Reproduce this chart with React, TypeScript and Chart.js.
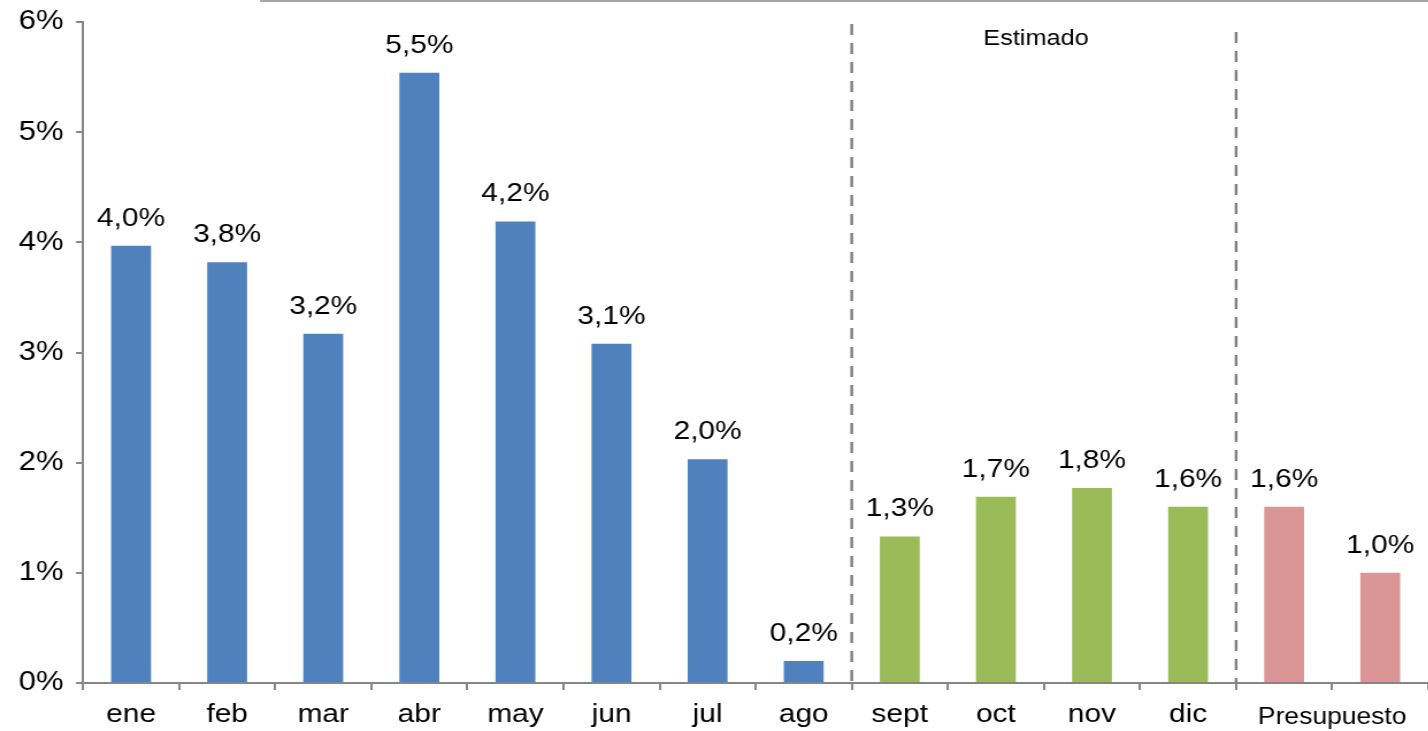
import { useEffect, useRef } from 'react';
import { Chart, registerables } from 'chart.js';

Chart.register(...registerables);

// ---- data ----
const categories = ['ene', 'feb', 'mar', 'abr', 'may', 'jun', 'jul', 'ago', 'sept', 'oct', 'nov', 'dic', '', ''];
const values = [3.97, 3.82, 3.17, 5.54, 4.19, 3.08, 2.03, 0.2, 1.33, 1.69, 1.77, 1.6, 1.6, 1.0];
const groupOf = ['real', 'real', 'real', 'real', 'real', 'real', 'real', 'real', 'est', 'est', 'est', 'est', 'pres', 'pres'];
const groupColors: Record<string, string> = { real: '#4F81BD', est: '#9BBB59', pres: '#D99694' };
const yTicks = [0, 1, 2, 3, 4, 5, 6];
const topLabel = 'Estimado';
const topLabelGroup = 'est';
const bottomGroupLabel = 'Presupuesto';
const bottomLabelGroup = 'pres';
const dividerAfter = [7, 11];

// ---- layout ----
const S = 1.15; // horizontal stretch of the reference
const CW = Math.round(1428 / S);
const H = 731;
const FONT = '"Liberation Sans", Arial, sans-serif';

const fmt = (v: number) => v.toFixed(1).replace('.', ',') + '%';

export default function App() {
  const ref = useRef<HTMLCanvasElement>(null);

  useEffect(() => {
    document.body.style.margin = '0';
    const canvas = ref.current!;

    const overlay = {
      id: 'overlay',
      afterDatasetsDraw(chart: any) {
        const { ctx, chartArea, scales } = chart;
        const x = scales.x;
        const meta = chart.getDatasetMeta(0);
        ctx.save();

        // value labels
        ctx.fillStyle = '#000';
        ctx.textAlign = 'center';
        ctx.textBaseline = 'alphabetic';
        ctx.font = `26px ${FONT}`;
        meta.data.forEach((bar: any, i: number) => {
          ctx.fillText(fmt(values[i]), bar.x, bar.y - 20);
        });

        // dashed dividers
        ctx.strokeStyle = '#7F7F7F';
        ctx.lineWidth = 2.4;
        ctx.setLineDash([11, 8]);
        const tops = [24, 32];
        dividerAfter.forEach((d, k) => {
          const px = (x.getPixelForValue(d) + x.getPixelForValue(d + 1)) / 2;
          ctx.beginPath();
          ctx.moveTo(px, tops[k]);
          ctx.lineTo(px, chartArea.bottom);
          ctx.stroke();
        });
        ctx.setLineDash([]);

        // top border line
        ctx.strokeStyle = '#A6A6A6';
        ctx.lineWidth = 2;
        ctx.beginPath();
        ctx.moveTo(260 / S, 1);
        ctx.lineTo(CW, 1);
        ctx.stroke();

        // group labels
        const idxOf = (g: string) => groupOf.map((gg, i) => (gg === g ? i : -1)).filter((i) => i >= 0);
        const center = (g: string) => {
          const ids = idxOf(g);
          return ids.reduce((s, i) => s + x.getPixelForValue(i), 0) / ids.length;
        };
        ctx.font = `22px ${FONT}`;
        ctx.fillText(topLabel, center(topLabelGroup) - 8 / S, 45);
        ctx.font = `23px ${FONT}`;
        ctx.fillText(bottomGroupLabel, center(bottomLabelGroup), 724);

        ctx.restore();
      },
    };

    const chart = new Chart(canvas, {
      type: 'bar',
      data: {
        labels: categories,
        datasets: [
          {
            data: values,
            backgroundColor: groupOf.map((g) => groupColors[g]),
            barPercentage: 0.415,
            categoryPercentage: 1,
          },
        ],
      },
      options: {
        animation: false,
        responsive: false,
        devicePixelRatio: 1,
        layout: { padding: { top: 22, right: 0, left: 0, bottom: 0 } },
        plugins: { legend: { display: false }, tooltip: { enabled: false } },
        scales: {
          x: {
            offset: true,
            grid: {
              offset: true,
              drawOnChartArea: false,
              drawTicks: true,
              tickLength: 7,
              color: '#868686',
              lineWidth: 2,
            },
            border: { display: true, color: '#868686', width: 2 },
            ticks: {
              color: '#000',
              font: { family: FONT, size: 26 },
              padding: 9,
              autoSkip: false,
              maxRotation: 0,
            },
            afterFit(scale: any) {
              scale.height = H - 683;
              scale.paddingLeft = 0;
              scale.paddingRight = 0;
            },
          },
          y: {
            min: 0,
            max: 6,
            afterBuildTicks(scale: any) {
              scale.ticks = yTicks.map((v) => ({ value: v }));
            },
            grid: {
              drawOnChartArea: false,
              drawTicks: true,
              tickLength: 6,
              color: '#868686',
              lineWidth: 2,
            },
            border: { display: true, color: '#868686', width: 2 },
            ticks: {
              color: '#000',
              font: { family: FONT, size: 27 },
              padding: 11,
              callback: (v: any) => `${v}%`,
            },
            afterFit(scale: any) {
              scale.width = 83 / S;
              scale.paddingTop = 0;
              scale.paddingBottom = 0;
            },
          },
        },
      },
      plugins: [overlay],
    });

    return () => chart.destroy();
  }, []);

  return (
    <div style={{ width: 1428, height: H, overflow: 'hidden', background: '#fff' }}>
      <div style={{ width: CW, height: H, transform: `scaleX(${S})`, transformOrigin: '0 0' }}>
        <canvas ref={ref} width={CW} height={H} />
      </div>
    </div>
  );
}
